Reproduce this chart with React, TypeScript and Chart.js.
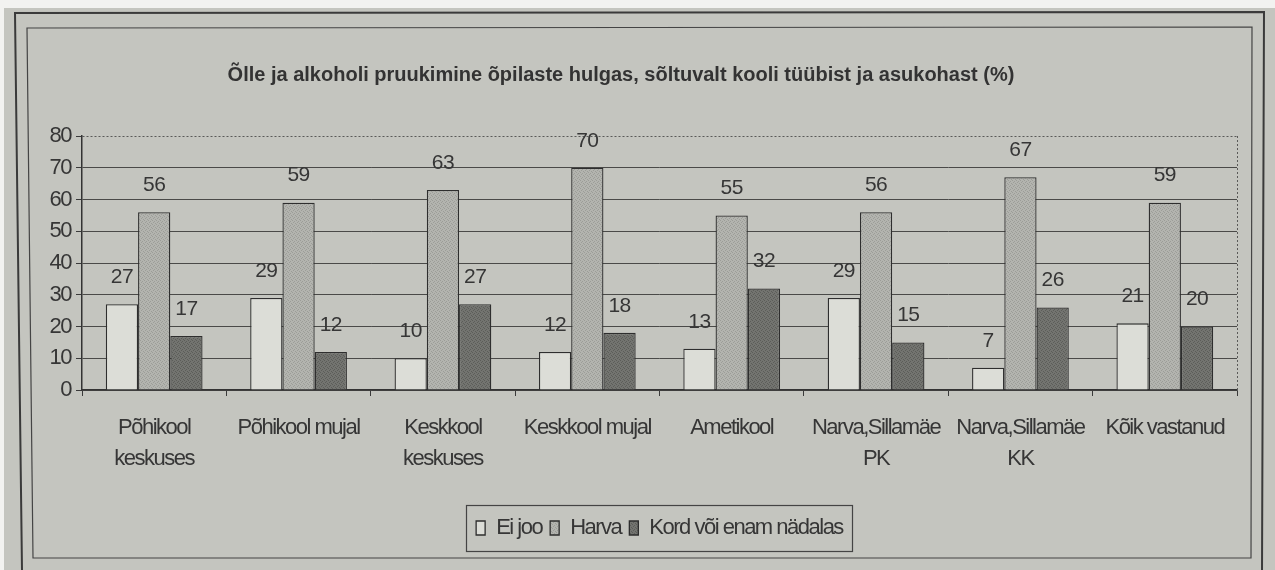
import React, { useEffect, useRef } from 'react';
import { Chart, registerables } from 'chart.js';

Chart.register(...registerables);

// ---------- data ----------
const categories: (string | string[])[] = [
  ['Põhikool', 'keskuses'],
  'Põhikool mujal',
  ['Keskkool', 'keskuses'],
  'Keskkool mujal',
  'Ametikool',
  ['Narva,Sillamäe', 'PK'],
  ['Narva,Sillamäe', 'KK'],
  'Kõik vastanud',
];
const eiJoo = [27, 29, 10, 12, 13, 29, 7, 21];
const harva = [56, 59, 63, 70, 55, 56, 67, 59];
const kordVoiEnam = [17, 12, 27, 18, 32, 15, 26, 20];
const seriesNames = ['Ei joo', 'Harva', 'Kord või enam nädalas'];
const yMin = 0;
const yMax = 80;
const yStep = 10;
const chartTitle =
  'Õlle ja alkoholi pruukimine õpilaste hulgas, sõltuvalt kooli tüübist ja asukohast (%)';

// ---------- style ----------
const PAPER = '#c4c5bf';
const INK = '#363636';
const FONT = "'Liberation Sans', Arial, sans-serif";
const TIGHT = '-1.5px';

// fine stipple like the printed halftone fills
const makeFill = (base: string, dot: string): CanvasPattern | string => {
  const c = document.createElement('canvas');
  c.width = 4;
  c.height = 4;
  const g = c.getContext('2d');
  if (!g) return base;
  g.fillStyle = base;
  g.fillRect(0, 0, 4, 4);
  g.fillStyle = dot;
  g.fillRect(0, 0, 1, 1);
  g.fillRect(2, 1, 1, 1);
  g.fillRect(1, 2, 1, 1);
  g.fillRect(3, 3, 1, 1);
  const p = g.createPattern(c, 'repeat');
  return p || base;
};

const setSpacing = (chart: any) => {
  if (chart.ctx) chart.ctx.letterSpacing = TIGHT;
};

const spacingPlugin = {
  id: 'spacing',
  beforeInit(chart: any) {
    const tb = chart.titleBlock;
    if (tb && !tb.__patched) {
      const orig = tb.draw.bind(tb);
      tb.draw = (...args: any[]) => {
        const ctx = chart.ctx;
        const prev = ctx.letterSpacing;
        ctx.letterSpacing = '0px';
        orig(...args);
        ctx.letterSpacing = prev;
      };
      tb.__patched = true;
    }
  },
  afterInit: setSpacing,
  beforeUpdate: setSpacing,
  beforeLayout: setSpacing,
  beforeDraw: setSpacing,
};

const paperPlugin = {
  id: 'paper',
  beforeDraw(chart: any) {
    const { ctx, width, height } = chart;
    ctx.save();
    ctx.fillStyle = '#f2f2f0';
    ctx.fillRect(0, 0, width, height);
    ctx.fillStyle = PAPER;
    ctx.fillRect(4, 8, width - 4, height - 8);
    ctx.strokeStyle = '#3a3a3a';
    ctx.lineWidth = 2;
    ctx.beginPath();
    ctx.moveTo(22, height);
    ctx.lineTo(15, 13);
    ctx.lineTo(1264, 12);
    ctx.lineTo(1262, height);
    ctx.stroke();
    ctx.lineWidth = 1.2;
    ctx.strokeStyle = '#444';
    ctx.beginPath();
    ctx.moveTo(27, 28);
    ctx.lineTo(1252, 27);
    ctx.lineTo(1251, 558);
    ctx.lineTo(33, 558);
    ctx.closePath();
    ctx.stroke();
    ctx.restore();
  },
  afterDraw(chart: any) {
    const { ctx, chartArea } = chart;
    ctx.save();
    ctx.strokeStyle = '#5a5a58';
    ctx.lineWidth = 1;
    ctx.setLineDash([2, 2]);
    ctx.beginPath();
    ctx.moveTo(chartArea.right + 0.5, chartArea.top);
    ctx.lineTo(chartArea.right + 0.5, chartArea.bottom);
    ctx.stroke();
    ctx.setLineDash([]);
    const hb = chart.legend && chart.legend.legendHitBoxes;
    if (hb && hb.length) {
      const left = Math.min(...hb.map((h: any) => h.left)) - 10;
      const right = Math.max(...hb.map((h: any) => h.left + h.width)) + 9;
      const cy = hb[0].top + hb[0].height / 2;
      ctx.strokeStyle = '#444';
      ctx.lineWidth = 1.2;
      ctx.strokeRect(Math.round(left) + 0.5, Math.round(cy - 23) + 0.5, Math.round(right - left), 46);
    }
    ctx.restore();
  },
};

const valueLabels = {
  id: 'valueLabels',
  afterDatasetsDraw(chart: any) {
    const { ctx } = chart;
    ctx.save();
    ctx.letterSpacing = '-0.5px';
    ctx.font = `21px ${FONT}`;
    ctx.fillStyle = INK;
    ctx.textAlign = 'center';
    ctx.textBaseline = 'middle';
    chart.data.datasets.forEach((ds: any, di: number) => {
      const meta = chart.getDatasetMeta(di);
      meta.data.forEach((el: any, i: number) => {
        ctx.fillText(String(ds.data[i]), el.x, el.y - 27);
      });
    });
    ctx.restore();
  },
};

export default function App() {
  const ref = useRef<HTMLCanvasElement | null>(null);

  useEffect(() => {
    if (!ref.current) return;
    const seriesData = [eiJoo, harva, kordVoiEnam];
    const fills = [
      '#dcddd7',
      makeFill('#b3b4af', '#9c9d98'),
      makeFill('#737470', '#5c5d59'),
    ];
    const chart = new Chart(ref.current, {
      type: 'bar',
      data: {
        labels: categories,
        datasets: seriesData.map((d, i) => ({
          label: seriesNames[i],
          data: d,
          backgroundColor: fills[i],
          borderColor: '#2e2e2e',
          borderWidth: 1.3,
          categoryPercentage: 0.67,
          barPercentage: 1.0,
        })),
      },
      options: {
        responsive: false,
        animation: false,
        devicePixelRatio: 1,
        layout: { padding: { left: 5, right: 38, top: 0, bottom: 21 } },
        plugins: {
          title: {
            display: true,
            text: chartTitle,
            color: '#333',
            font: { family: FONT, size: 20, weight: 'bold' },
            padding: { top: 63, bottom: 49 },
          },
          legend: {
            position: 'bottom',
            fullSize: false,
            labels: {
              boxWidth: 9,
              boxHeight: 14,
              padding: 8,
              color: INK,
              font: { family: FONT, size: 22 },
            },
          },
          tooltip: { enabled: false },
        },
        scales: {
          x: {
            grid: {
              offset: true,
              drawOnChartArea: false,
              drawTicks: true,
              tickLength: 6,
              color: '#3a3a3a',
            },
            border: { display: true, color: '#333', width: 1.5 },
            ticks: {
              color: INK,
              font: { family: FONT, size: 22, lineHeight: 1.41 },
              padding: 16,
              autoSkip: false,
              maxRotation: 0,
            },
            afterFit: (s: any) => {
              s.height = 119;
            },
          },
          y: {
            min: yMin,
            max: yMax,
            ticks: {
              stepSize: yStep,
              color: INK,
              font: { family: FONT, size: 22 },
              padding: 5,
            },
            grid: {
              color: (c: any) => (c.tick && c.tick.value === yMax ? '#5a5a58' : '#4a4a48'),
              lineWidth: 1,
              tickLength: 6,
              tickColor: '#3a3a3a',
            },
            border: {
              display: true,
              color: '#333',
              width: 1.5,
              dash: (c: any) => (c.tick && c.tick.value === yMax ? [2, 2] : []),
            },
            afterFit: (s: any) => {
              s.width = 77;
            },
          },
        },
      },
      plugins: [spacingPlugin, paperPlugin, valueLabels],
    } as any);
    return () => chart.destroy();
  }, []);

  return (
    <canvas
      ref={ref}
      width={1275}
      height={570}
      style={{ position: 'fixed', left: 0, top: 0, width: 1275, height: 570 }}
    />
  );
}
